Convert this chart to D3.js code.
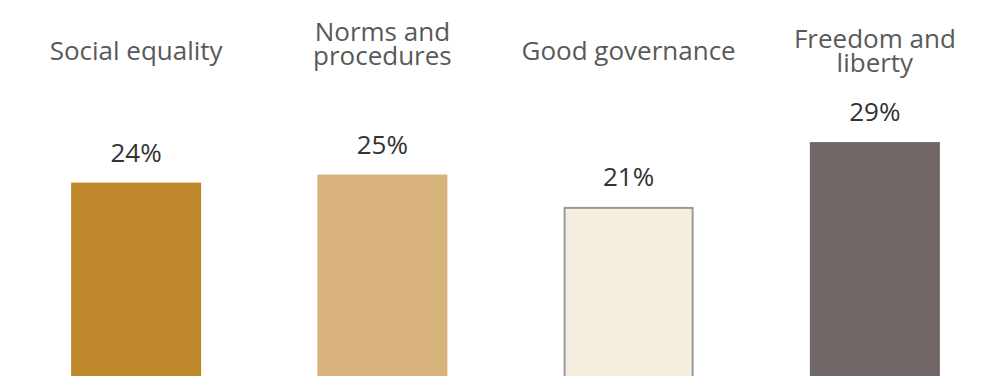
<!DOCTYPE html>
<html>
<head>
<meta charset="utf-8">
<script src="https://cdn.jsdelivr.net/npm/d3@7"></script>
<style>
  html, body { margin: 0; padding: 0; background: #fff; }
  svg { display: block; }
  text { font-family: "Open Sans", "Noto Sans", sans-serif; font-weight: 400; }
</style>
</head>
<body>
<svg id="chart" width="984" height="376"></svg>
<script>
// Share of respondents by what democracy means to them
const categories = ["Social equality", "Norms and procedures", "Good governance", "Freedom and liberty"];
const labelLines = [["Social equality"], ["Norms and", "procedures"], ["Good governance"], ["Freedom and", "liberty"]];
const values = [24, 25, 21, 29];
const fills = ["#c0882c", "#d8b47c", "#f5eedf", "#716766"];
const strokes = ["none", "none", "#9a9a9a", "none"];

const width = 984, height = 376;
const svg = d3.select("#chart");

const x = d3.scaleBand()
  .domain(categories)
  .range([13, 998])
  .paddingInner(0.472)
  .paddingOuter(0.236);

const y = d3.scaleLinear()
  .domain([0, 30])
  .range([377, 134]);

// bars (they run off the bottom edge)
svg.append("g")
  .selectAll("rect")
  .data(categories)
  .join("rect")
  .attr("x", (d, i) => x(d) + (strokes[i] === "none" ? 0 : 1))
  .attr("y", (d, i) => y(values[i]) + (strokes[i] === "none" ? 0 : 1))
  .attr("width", (d, i) => x.bandwidth() - (strokes[i] === "none" ? 0 : 2))
  .attr("height", (d, i) => y(0) - y(values[i]) + 10)
  .attr("fill", (d, i) => fills[i])
  .attr("stroke", (d, i) => strokes[i])
  .attr("stroke-width", 2);

// value labels
svg.append("g")
  .selectAll("text")
  .data(categories)
  .join("text")
  .attr("x", d => x(d) + x.bandwidth() / 2)
  .attr("y", (d, i) => y(values[i]) - 21)
  .attr("text-anchor", "middle")
  .attr("font-size", 26)
  .attr("fill", "#333")
  .text((d, i) => values[i] + "%");

// category labels, multi-line ones centred on the same baseline band
const labelNudge = { "Norms and procedures": -7 };
const lineHeight = 24;
const labels = svg.append("g")
  .selectAll("text")
  .data(categories)
  .join("text")
  .attr("text-anchor", "middle")
  .attr("font-size", 26)
  .attr("fill", "#595959");

labels.each(function (d, i) {
  const lines = labelLines[i];
  const first = 60 - (lines.length - 1) * lineHeight / 2 + (labelNudge[d] || 0);
  d3.select(this)
    .selectAll("tspan")
    .data(lines)
    .join("tspan")
    .attr("x", x(d) + x.bandwidth() / 2)
    .attr("y", (t, j) => first + j * lineHeight)
    .text(t => t);
});
</script>
</body>
</html>
